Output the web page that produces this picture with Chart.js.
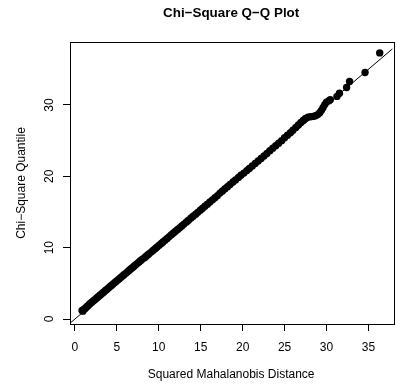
<!DOCTYPE html>
<html>
<head>
<meta charset="utf-8">
<script src="https://cdn.jsdelivr.net/npm/chart.js@4/dist/chart.umd.min.js"></script>
<style>
  html, body { margin: 0; padding: 0; background: #fff; overflow: hidden; }
  #wrap { width: 396px; height: 387px; }
</style>
</head>
<body>
<div id="wrap"><canvas id="c" width="396" height="387"></canvas></div>
<script>
// Squared Mahalanobis distances (sorted)
const distances = [0.85,0.95,1.05,1.2,1.3,1.45,1.6,1.75,1.9,2.05,2.25,2.4,2.6,2.75,2.95,3.1,3.3,3.45,3.65,3.8,
  4.0,4.2,4.35,4.55,4.75,4.9,5.1,5.3,5.5,5.7,5.85,6.05,6.25,6.45,6.65,6.85,7.05,7.25,7.45,7.65,
  7.85,8.05,8.3,8.5,8.7,8.9,9.15,9.35,9.6,9.8,10.05,10.3,10.5,10.75,11.0,11.25,11.5,11.75,12.0,12.25,
  12.5,12.75,13.0,13.3,13.55,13.85,14.1,14.4,14.65,14.95,15.2,15.5,15.8,16.1,16.4,16.7,17.0,17.3,17.6,17.9,
  18.2,18.5,18.85,19.15,19.5,19.8,20.15,20.5,20.8,21.15,21.5,21.85,22.2,22.55,22.9,23.25,23.6,23.95,24.3,24.65,
  25.0,25.35,25.7,26.0,26.35,26.65,26.95,27.25,27.5,27.8,28.1,28.4,28.7,28.95,29.2,29.4,29.6,29.8,30.0,30.3,
  30.45,31.25,31.55,32.4,32.75,34.6,36.35];
// Chi-square quantiles
const quantiles = [1.2,1.1,1.35,1.45,1.6,1.75,1.9,2.1,2.25,2.4,2.6,2.75,2.95,3.1,3.3,3.45,3.65,3.8,4.0,4.15,
  4.35,4.55,4.7,4.9,5.1,5.25,5.45,5.65,5.85,6.05,6.2,6.4,6.6,6.8,7.0,7.2,7.4,7.6,7.8,8.0,
  8.2,8.4,8.6,8.8,9.0,9.2,9.45,9.65,9.9,10.1,10.35,10.6,10.8,11.05,11.3,11.55,11.8,12.05,12.3,12.55,
  12.8,13.05,13.3,13.6,13.85,14.15,14.4,14.7,14.95,15.25,15.5,15.8,16.1,16.4,16.7,17.0,17.3,17.65,17.95,18.25,
  18.55,18.85,19.2,19.5,19.85,20.15,20.45,20.8,21.1,21.45,21.8,22.15,22.5,22.85,23.2,23.6,23.95,24.3,24.65,25.0,
  25.4,25.75,26.1,26.45,26.85,27.2,27.55,27.85,28.1,28.3,28.35,28.4,28.5,28.65,28.9,29.25,29.65,30.05,30.4,30.6,
  30.75,31.2,31.65,32.45,33.3,34.55,37.3];
// Reference line y = x (intercept 0, slope 1)
const refLineX = [-5, 45];
const refLineY = [-5, 45];
const xTicks = [0, 5, 10, 15, 20, 25, 30, 35];
const yTicks = [0, 10, 20, 30];

const FONT = "'Liberation Sans', Arial, Helvetica, sans-serif";

const boxPlugin = {
  id: 'box',
  afterDraw(chart) {
    const a = chart.chartArea, ctx = chart.ctx;
    ctx.save();
    ctx.strokeStyle = '#000';
    ctx.lineWidth = 1;
    ctx.strokeRect(Math.round(a.left) + 0.5, Math.round(a.top) + 0.5,
      Math.round(a.right - a.left) + 2, Math.round(a.bottom - a.top));
    ctx.restore();
  }
};

new Chart(document.getElementById('c'), {
  type: 'scatter',
  data: {
    datasets: [
      {
        type: 'scatter',
        data: distances.map((d, i) => ({ x: d, y: quantiles[i] })),
        backgroundColor: '#000',
        borderWidth: 0,
        pointRadius: 3.7,
        pointHoverRadius: 3.7,
        clip: false
      },
      {
        type: 'line',
        data: refLineX.map((d, i) => ({ x: d, y: refLineY[i] })),
        borderColor: '#000',
        borderWidth: 1,
        pointRadius: 0,
        fill: false,
        clip: 0
      }
    ]
  },
  options: {
    responsive: false,
    animation: false,
    devicePixelRatio: 1,
    layout: { padding: 0 },
    plugins: {
      legend: { display: false },
      tooltip: { enabled: false },
      title: {
        display: true,
        text: 'Chi\u2212Square Q\u2212Q Plot',
        fullSize: false,
        color: '#000',
        font: { family: FONT, size: 13.4, weight: 'bold' },
        padding: { top: 5.5, bottom: 20.4 }
      }
    },
    scales: {
      x: {
        type: 'linear',
        min: -0.59,
        max: 37.85,
        afterBuildTicks(s) { s.ticks = xTicks.map(v => ({ value: v })); },
        afterFit(s) { s.height = 63; },
        grid: { display: true, drawOnChartArea: false, drawTicks: true, tickLength: 7, color: '#000', lineWidth: 1 },
        border: { display: false },
        ticks: { color: '#000', font: { family: FONT, size: 12 }, padding: 9, maxRotation: 0, autoSkip: false },
        title: {
          display: true,
          text: 'Squared Mahalanobis Distance',
          color: '#000',
          font: { family: FONT, size: 12 },
          padding: { top: 0, bottom: 5.3 }
        }
      },
      y: {
        type: 'linear',
        min: -0.70,
        max: 38.83,
        afterBuildTicks(s) { s.ticks = yTicks.map(v => ({ value: v })); },
        afterFit(s) { s.width = 70; },
        grid: { display: true, drawOnChartArea: false, drawTicks: true, tickLength: 7, color: '#000', lineWidth: 1 },
        border: { display: false },
        ticks: { color: '#000', font: { family: FONT, size: 12 }, padding: 7, minRotation: 90, maxRotation: 90, crossAlign: 'center', autoSkip: false },
        title: {
          display: true,
          text: 'Chi\u2212Square Quantile',
          color: '#000',
          font: { family: FONT, size: 12 },
          padding: { top: 14.6, bottom: 0 }
        }
      }
    }
  },
  plugins: [boxPlugin]
});
</script>
</body>
</html>
